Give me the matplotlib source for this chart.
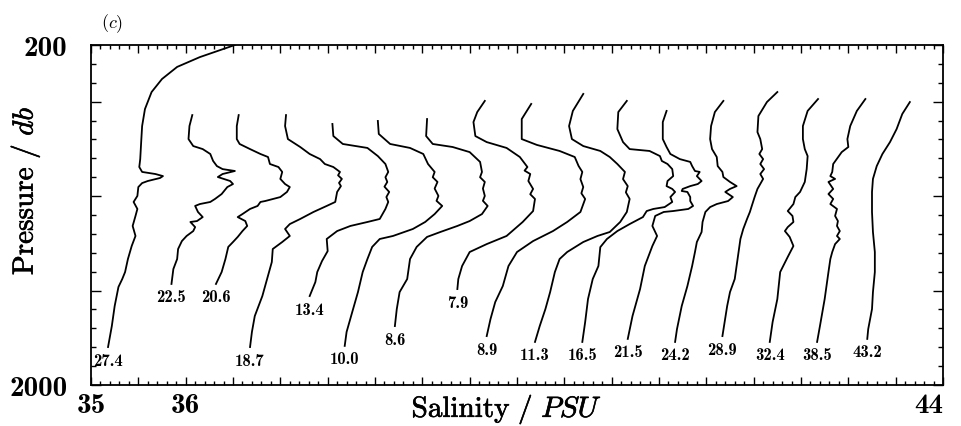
import matplotlib
matplotlib.use("Agg")
import matplotlib.pyplot as plt
import matplotlib.patheffects as pe
from matplotlib.ticker import MultipleLocator, FixedLocator

plt.rcParams['mathtext.fontset'] = 'cm'
plt.rcParams['font.family'] = ['DejaVu Serif']

# ---- salinity profiles (plotted salinity incl. station offset, pressure in db) ----
pres_274 = [168, 200, 264, 316, 380, 449, 539, 629, 714, 804, 846, 872, 883, 894, 904, 920, 931, 952, 999, 1031,
            1068, 1105, 1158, 1211, 1264, 1333, 1402, 1439, 1481, 1582, 1688, 1799]
sal_274 = [36.63, 36.52, 36.15, 35.91, 35.75, 35.64, 35.57, 35.54, 35.53, 35.52, 35.51, 35.54, 35.68, 35.76, 35.73,
           35.60, 35.54, 35.50, 35.49, 35.45, 35.49, 35.47, 35.44, 35.47, 35.43, 35.39, 35.36, 35.33, 35.29, 35.25,
           35.22, 35.18]

pres_225 = [571, 629, 698, 735, 751, 777, 814, 841, 857, 867, 883, 899, 920, 936, 952, 989, 1015, 1031, 1042, 1052,
            1084, 1111, 1132, 1137, 1164, 1185, 1211, 1238, 1280, 1333, 1386, 1465]
sal_225 = [36.07, 36.04, 36.03, 36.08, 36.18, 36.26, 36.29, 36.33, 36.39, 36.52, 36.39, 36.34, 36.47, 36.50, 36.44,
           36.38, 36.31, 36.26, 36.15, 36.10, 36.13, 36.18, 36.12, 36.05, 36.10, 36.08, 36.01, 35.96, 35.92, 35.91,
           35.87, 35.85]

pres_206 = [571, 629, 698, 724, 751, 777, 793, 830, 846, 872, 909, 936, 952, 978, 1005, 1026, 1031, 1052, 1068, 1095,
            1111, 1132, 1158, 1185, 1216, 1243, 1269, 1333, 1402, 1465]
sal_206 = [36.56, 36.54, 36.54, 36.57, 36.68, 36.79, 36.87, 36.89, 36.98, 37.02, 37.00, 37.05, 37.10, 37.07, 37.00,
           36.84, 36.79, 36.76, 36.68, 36.60, 36.55, 36.63, 36.65, 36.60, 36.55, 36.50, 36.45, 36.42, 36.38, 36.32]

pres_187 = [571, 629, 698, 740, 777, 804, 830, 846, 872, 890, 909, 930, 947, 978, 1031, 1052, 1084, 1121, 1148, 1174,
            1211, 1243, 1280, 1349, 1439, 1529, 1635, 1719, 1799]
sal_187 = [37.06, 37.05, 37.08, 37.21, 37.31, 37.42, 37.47, 37.56, 37.63, 37.61, 37.65, 37.62, 37.64, 37.60, 37.58,
           37.49, 37.35, 37.21, 37.10, 37.05, 37.10, 37.02, 36.92, 36.91, 36.86, 36.81, 36.73, 36.70, 36.68]

pres_134 = [618, 682, 724, 745, 788, 830, 872, 900, 925, 950, 978, 1005, 1031, 1068, 1121, 1137, 1158, 1185, 1227,
            1291, 1344, 1402, 1455, 1529]
sal_134 = [37.55, 37.56, 37.66, 37.92, 38.03, 38.11, 38.14, 38.11, 38.13, 38.10, 38.15, 38.12, 38.14, 38.11, 38.05,
           37.92, 37.74, 37.60, 37.49, 37.50, 37.44, 37.39, 37.37, 37.31]

pres_100 = [602, 671, 724, 745, 777, 830, 872, 900, 925, 960, 999, 1025, 1052, 1095, 1137, 1174, 1211, 1227, 1269,
            1333, 1402, 1508, 1613, 1719, 1793]
sal_100 = [38.03, 38.04, 38.16, 38.37, 38.51, 38.56, 38.63, 38.61, 38.66, 38.63, 38.67, 38.65, 38.71, 38.63, 38.53,
           38.40, 38.19, 38.05, 37.97, 37.92, 37.87, 37.82, 37.76, 37.70, 37.68]

pres_086 = [592, 682, 724, 740, 767, 819, 872, 900, 925, 960, 999, 1025, 1052, 1095, 1132, 1158, 1190, 1216, 1269,
            1333, 1439, 1508, 1598, 1688]
sal_086 = [38.55, 38.54, 38.61, 38.82, 39.00, 39.11, 39.13, 39.11, 39.16, 39.14, 39.16, 39.14, 39.19, 39.13, 39.00,
           38.87, 38.69, 38.55, 38.44, 38.37, 38.34, 38.26, 38.23, 38.21]

pres_079 = [496, 555, 608, 682, 714, 745, 793, 846, 865, 883, 920, 962, 990, 1015, 1079, 1137, 1211, 1254, 1296, 1370,
            1439, 1492]
sal_079 = [39.16, 39.08, 39.04, 39.06, 39.18, 39.39, 39.53, 39.61, 39.58, 39.64, 39.62, 39.67, 39.64, 39.69, 39.67,
           39.56, 39.39, 39.18, 39.00, 38.92, 38.88, 38.87]

pres_089 = [512, 592, 698, 729, 761, 793, 840, 872, 910, 952, 985, 1015, 1084, 1137, 1185, 1238, 1296, 1370, 1476,
            1561, 1651, 1741]
sal_089 = [39.65, 39.55, 39.55, 39.71, 39.95, 40.11, 40.15, 40.19, 40.17, 40.20, 40.18, 40.22, 40.17, 40.03, 39.88,
           39.67, 39.50, 39.41, 39.35, 39.27, 39.22, 39.18]

pres_113 = [459, 549, 629, 698, 735, 761, 793, 830, 872, 910, 947, 980, 1015, 1084, 1137, 1190, 1211, 1243, 1296,
            1333, 1402, 1508, 1598, 1688, 1772]
sal_113 = [40.20, 40.09, 40.05, 40.08, 40.20, 40.38, 40.48, 40.56, 40.64, 40.62, 40.67, 40.65, 40.69, 40.66, 40.59,
           40.48, 40.35, 40.20, 40.03, 39.95, 39.90, 39.85, 39.80, 39.74, 39.69]

pres_165 = [496, 555, 645, 714, 751, 761, 788, 814, 830, 857, 894, 920, 947, 962, 978, 1005, 1031, 1058, 1068, 1079,
            1111, 1148, 1185, 1227, 1270, 1370, 1439, 1545, 1667, 1772]
sal_165 = [40.66, 40.57, 40.56, 40.62, 40.69, 40.90, 41.01, 41.03, 41.09, 41.14, 41.15, 41.09, 41.08, 41.14, 41.17,
           41.12, 41.14, 41.06, 40.94, 40.87, 40.83, 40.69, 40.56, 40.45, 40.38, 40.36, 40.30, 40.25, 40.22, 40.19]

pres_215 = [549, 608, 698, 740, 777, 804, 819, 841, 867, 872, 894, 920, 936, 947, 962, 973, 978, 1005, 1026, 1052,
            1068, 1079, 1084, 1105, 1158, 1211, 1264, 1370, 1492, 1635, 1756]
sal_215 = [41.08, 41.04, 41.04, 41.08, 41.12, 41.22, 41.33, 41.35, 41.38, 41.43, 41.40, 41.45, 41.41, 41.33, 41.25,
           41.24, 41.30, 41.33, 41.33, 41.36, 41.31, 41.15, 41.05, 40.96, 40.93, 40.98, 40.93, 40.85, 40.80, 40.72,
           40.67]

pres_242 = [496, 555, 629, 698, 751, 793, 841, 872, 899, 925, 947, 962, 978, 1005, 1026, 1042, 1058, 1084, 1137, 1190,
            1243, 1296, 1370, 1476, 1582, 1704, 1772]
sal_242 = [41.68, 41.59, 41.55, 41.54, 41.56, 41.61, 41.62, 41.67, 41.68, 41.75, 41.82, 41.75, 41.70, 41.78, 41.73,
           41.61, 41.54, 41.49, 41.46, 41.45, 41.40, 41.38, 41.35, 41.30, 41.24, 41.19, 41.17]

pres_289 = [449, 502, 576, 661, 698, 751, 777, 804, 830, 857, 883, 909, 962, 1005, 1052, 1084, 1121, 1174, 1227, 1333,
            1439, 1508, 1582, 1741]
sal_289 = [42.25, 42.14, 42.05, 42.04, 42.07, 42.09, 42.06, 42.10, 42.07, 42.11, 42.07, 42.10, 42.04, 42.01, 41.98,
           41.96, 41.93, 41.89, 41.86, 41.83, 41.80, 41.75, 41.72, 41.67]

pres_324 = [486, 549, 629, 698, 751, 788, 857, 925, 978, 1005, 1042, 1079, 1105, 1137, 1164, 1185, 1216, 1264, 1322,
            1402, 1545, 1667, 1772]
sal_324 = [42.68, 42.57, 42.52, 42.52, 42.54, 42.57, 42.56, 42.54, 42.49, 42.44, 42.42, 42.36, 42.41, 42.42, 42.36,
           42.33, 42.38, 42.42, 42.36, 42.28, 42.25, 42.20, 42.17]

pres_385 = [486, 549, 629, 698, 740, 767, 830, 872, 894, 909, 925, 962, 989, 1015, 1042, 1068, 1105, 1132, 1158, 1185,
            1211, 1227, 1254, 1296, 1333, 1402, 1545, 1688, 1772]
sal_385 = [43.18, 43.09, 43.02, 42.99, 43.00, 42.93, 42.84, 42.83, 42.81, 42.86, 42.79, 42.84, 42.79, 42.84, 42.81,
           42.88, 42.86, 42.89, 42.88, 42.91, 42.88, 42.91, 42.86, 42.83, 42.81, 42.79, 42.75, 42.70, 42.67]

pres_432 = [502, 565, 645, 714, 777, 841, 909, 978, 1084, 1190, 1296, 1402, 1508, 1598, 1704, 1756]
sal_432 = [43.65, 43.57, 43.51, 43.44, 43.36, 43.30, 43.26, 43.25, 43.25, 43.26, 43.28, 43.28, 43.26, 43.25, 43.21,
           43.20]

station_labels = ['27.4', '22.5', '20.6', '18.7', '13.4', '10.0', '8.6', '7.9', '8.9',
                  '11.3', '16.5', '21.5', '24.2', '28.9', '32.4', '38.5', '43.2']
profiles = [(pres_274, sal_274), (pres_225, sal_225), (pres_206, sal_206), (pres_187, sal_187),
            (pres_134, sal_134), (pres_100, sal_100), (pres_086, sal_086), (pres_079, sal_079),
            (pres_089, sal_089), (pres_113, sal_113), (pres_165, sal_165), (pres_215, sal_215),
            (pres_242, sal_242), (pres_289, sal_289), (pres_324, sal_324), (pres_385, sal_385),
            (pres_432, sal_432)]

# ---- figure ----
W, H = 962, 427
fig = plt.figure(figsize=(W / 100, H / 100), dpi=100)
ax = fig.add_axes([91 / W, 1 - 386 / H, 852 / W, 340 / H])

heavy = [pe.withStroke(linewidth=0.45, foreground='black')]

for lab, (p, s) in zip(station_labels, profiles):
    ax.plot(s, p, color='black', lw=1.3)
    ax.annotate(lab, xy=(s[-1], p[-1]), xytext=(0, -4), textcoords='offset points',
                ha='center', va='top', fontsize=12, family='cmb10')

ax.set_xlim(35, 44)
ax.set_ylim(2000, 200)

# ticks: inward on all four sides, labels only at the ends
ax.xaxis.set_major_locator(MultipleLocator(0.5))
ax.xaxis.set_minor_locator(MultipleLocator(0.1))
ax.xaxis.set_major_formatter(plt.FuncFormatter(
    lambda v, pos: '%d' % round(v) if round(v, 2) in (35.0, 36.0, 44.0) else ''))
ax.yaxis.set_major_locator(FixedLocator([200, 500, 1000, 1500, 2000]))
ax.yaxis.set_minor_locator(MultipleLocator(100))
ax.yaxis.set_major_formatter(plt.FuncFormatter(
    lambda v, pos: '%d' % v if v in (200, 2000) else ''))

ax.tick_params(which='both', direction='in', top=True, right=True, width=1.0, color='black')
ax.tick_params(axis='both', which='major', labelsize=21, labelfontfamily='cmb10')
ax.tick_params(axis='x', which='major', length=6, pad=5)
ax.tick_params(axis='x', which='minor', length=3)
ax.tick_params(axis='y', which='major', length=7, pad=17)
ax.tick_params(axis='y', which='minor', length=3.5)

for sp in ax.spines.values():
    sp.set_linewidth(1.3)

ax.set_xlabel(r'$\mathrm{Salinity\ /\ }PSU$', fontsize=21, path_effects=heavy)
ax.xaxis.set_label_coords(0.488, -0.02)
ax.set_ylabel(r'$\mathrm{Pressure\ /\ }db$', fontsize=21, path_effects=heavy)
ax.yaxis.set_label_coords(-0.058, 0.571)

fig.text(112 / W, 1 - 24 / H, r'$(c)$', fontsize=13, ha='center', va='center')

fig.canvas.draw()
for lbl in ax.get_xticklabels():
    if lbl.get_text() == '44':
        lbl.set_horizontalalignment('right')

fig.savefig('out.png', dpi=100)
